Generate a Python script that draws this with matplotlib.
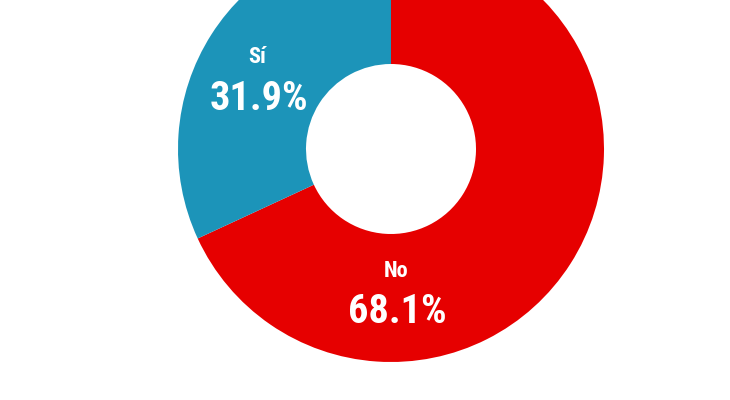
import matplotlib
matplotlib.use('Agg')
import matplotlib.pyplot as plt

# survey answers
labels = ['No', 'Sí']
values = [68.1, 31.9]
colors = ['#E60000', '#1C94B9']

fig = plt.figure(figsize=(7.3, 4.0), dpi=100)
ax = fig.add_axes([0, 0, 1, 1])

ax.pie(values, colors=colors, startangle=90, counterclock=False,
       center=(391, 251), radius=213,
       wedgeprops=dict(width=128, linewidth=0), frame=True)
ax.set_xlim(0, 730)
ax.set_ylim(0, 400)
ax.set_aspect('equal')
ax.axis('off')

fam = ['Liberation Sans Narrow', 'DejaVu Sans Condensed', 'Roboto Condensed', 'DejaVu Sans']
# text positions for each slice label
lab_pos = {'No': (396, 129), 'Sí': (257, 343)}
pct_pos = {'No': (397, 88), 'Sí': (259, 301)}
for lab, val in zip(labels, values):
    x, y = lab_pos[lab]
    ax.text(x, y, lab, color='white', fontsize=16, fontweight='bold',
            family=fam, ha='center', va='center')
    x, y = pct_pos[lab]
    ax.text(x, y, f'{val:.1f}%', color='white', fontsize=29, fontweight='bold',
            family=fam, ha='center', va='center')

fig.savefig('out.png', dpi=100)
